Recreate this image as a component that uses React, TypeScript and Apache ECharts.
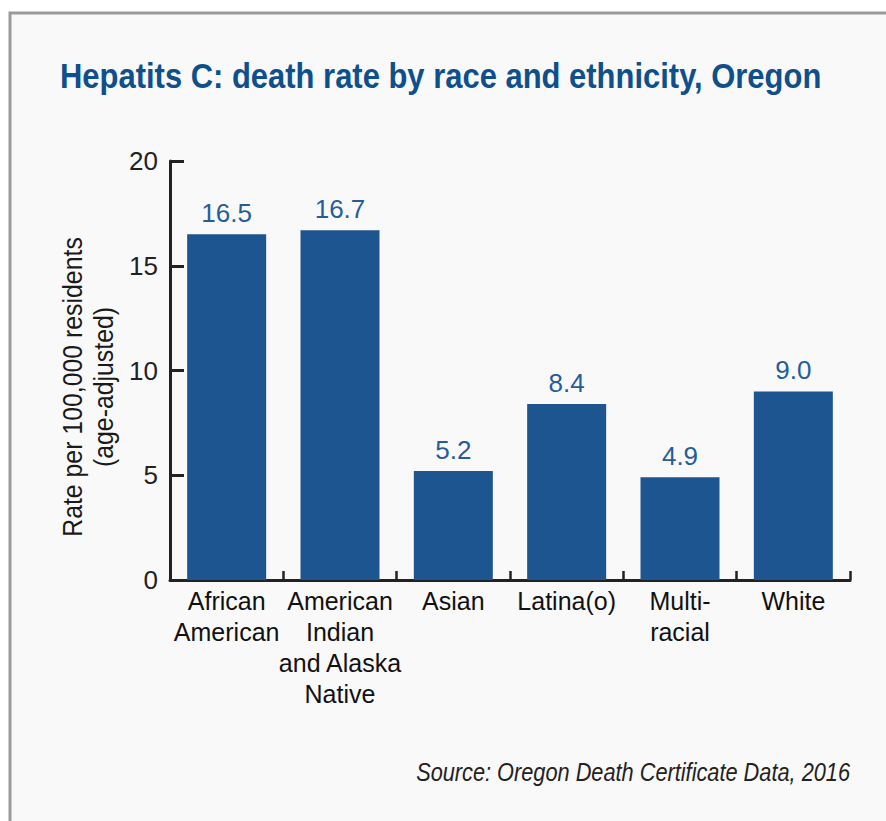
import React, { useEffect, useRef } from "react";
import * as echarts from "echarts";

const categories = ["African\nAmerican", "American\nIndian\nand Alaska\nNative", "Asian", "Latina(o)", "Multi-\nracial", "White"];
const deathRates = [16.5, 16.7, 5.2, 8.4, 4.9, 9.0];
const yTicks = [0, 5, 10, 15, 20];
const titleText = "Hepatits C: death rate by race and ethnicity, Oregon";
const yAxisName = "Rate per 100,000 residents\n(age-adjusted)";
const sourceText = "Source: Oregon Death Certificate Data, 2016";

const FONT = "'Liberation Sans Narrow', 'Liberation Sans', Arial, sans-serif";

export default function App() {
  const ref = useRef<HTMLDivElement>(null);
  useEffect(() => {
    if (!ref.current) return;
    const chart = echarts.init(ref.current, null, { renderer: "svg" });
    chart.setOption({
      animation: false,
      backgroundColor: "#ffffff",
      textStyle: { fontFamily: FONT },
      graphic: [
        {
          type: "rect",
          z: -10,
          silent: true,
          shape: { x: 10, y: 13, width: 900, height: 900 },
          style: { fill: "#f9f9f9", stroke: "#9a9a9a", lineWidth: 3 },
        },
        {
          type: "text",
          x: 60,
          y: 94,
          scaleX: 0.86,
          style: {
            text: titleText,
            fontFamily: FONT,
            fontWeight: "bold",
            fontSize: 36,
            fill: "#0e4f8c",
            verticalAlign: "bottom",
          },
        },
        {
          type: "text",
          x: 88,
          y: 387,
          rotation: Math.PI / 2,
          scaleX: 0.92,
          style: {
            text: yAxisName,
            fontFamily: FONT,
            fontSize: 27,
            lineHeight: 31,
            fill: "#1a1a1a",
            align: "center",
            verticalAlign: "middle",
          },
        },
        {
          type: "text",
          x: 850,
          y: 785,
          scaleX: 0.87,
          style: {
            text: sourceText,
            fontFamily: FONT,
            fontStyle: "italic",
            fontSize: 25,
            fill: "#222222",
            align: "right",
            verticalAlign: "bottom",
          },
        },
      ],
      grid: { left: 170, right: 36, top: 161, bottom: 241, containLabel: false },
      xAxis: {
        type: "category",
        data: categories,
        axisLine: { lineStyle: { color: "#222222", width: 3 } },
        axisTick: { show: true, inside: true, length: 9, lineStyle: { color: "#222222", width: 2.5 } },
        axisLabel: { interval: 0, fontSize: 25, lineHeight: 31, color: "#111111", margin: 5, fontFamily: FONT },
      },
      yAxis: {
        type: "value",
        min: yTicks[0],
        max: yTicks[yTicks.length - 1],
        interval: 5,
        axisLine: { show: true, lineStyle: { color: "#222222", width: 3 } },
        axisTick: { show: true, inside: true, length: 14, lineStyle: { color: "#222222", width: 3 } },
        axisLabel: { fontSize: 26, color: "#222222", margin: 12, fontFamily: FONT },
        splitLine: { show: false },
      },
      series: [
        {
          type: "bar",
          data: deathRates,
          barWidth: 79,
          itemStyle: { color: "#1c5590" },
          label: {
            show: true,
            position: "top",
            distance: 8,
            fontSize: 26,
            color: "#255d9b",
            fontFamily: FONT,
            formatter: (p: any) => Number(p.value).toFixed(1),
          },
        },
      ],
    });
    return () => chart.dispose();
  }, []);
  return <div ref={ref} style={{ position: "absolute", left: 0, top: 0, width: 886, height: 821 }} />;
}
